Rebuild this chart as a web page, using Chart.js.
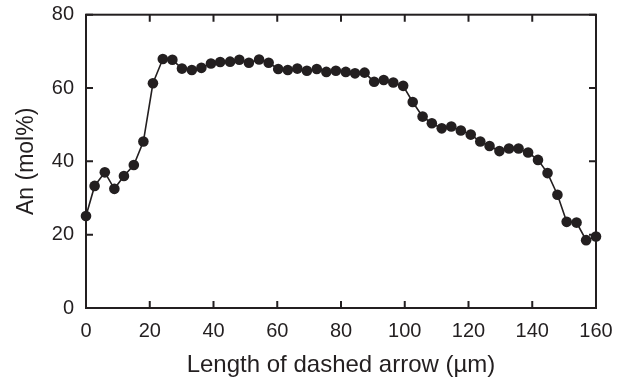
<!DOCTYPE html>
<html>
<head>
<meta charset="utf-8">
<script src="https://cdn.jsdelivr.net/npm/chart.js@4/dist/chart.umd.min.js"></script>
<style>
  html, body { margin: 0; padding: 0; background: #ffffff; }
  #wrap { width: 618px; height: 384px; position: relative; }
</style>
</head>
<body>
<div id="wrap"><canvas id="c" width="618" height="384"></canvas></div>
<script>
// Distance along dashed arrow (µm)
const xValues = [0, 2.7, 5.9, 8.9, 11.9, 15.0, 18.0, 21.0, 24.1, 27.1, 30.1, 33.2, 36.2, 39.2, 42.1, 45.2, 48.1, 51.1, 54.3, 57.3,
  60.3, 63.3, 66.3, 69.3, 72.4, 75.4, 78.4, 81.5, 84.4, 87.4, 90.4, 93.4, 96.4, 99.5, 102.5, 105.6, 108.5, 111.6, 114.6, 117.6,
  120.7, 123.7, 126.6, 129.7, 132.7, 135.7, 138.7, 141.8, 144.8, 147.9, 150.8, 153.9, 156.9, 160.0];
// An content (mol%)
const anValues = [25.1, 33.3, 37.0, 32.5, 36.0, 39.0, 45.4, 61.3, 67.9, 67.7, 65.3, 64.9, 65.5, 66.7, 67.1, 67.2, 67.7, 66.9, 67.8, 66.9,
  65.2, 64.9, 65.3, 64.7, 65.2, 64.4, 64.7, 64.4, 64.0, 64.2, 61.7, 62.2, 61.5, 60.6, 56.2, 52.2, 50.4, 49.0, 49.5, 48.4,
  47.3, 45.4, 44.2, 42.8, 43.5, 43.5, 42.4, 40.4, 36.8, 30.9, 23.5, 23.3, 18.5, 19.5];
const xTicks = [0, 20, 40, 60, 80, 100, 120, 140, 160];
const yTicks = [0, 20, 40, 60, 80];
const xTitle = 'Length of dashed arrow (µm)';
const yTitle = 'An (mol%)';

const ink = '#231f20';
const points = xValues.map((x, i) => ({ x: x, y: anValues[i] }));

const frameTicks = {
  id: 'frameTicks',
  afterDraw(chart) {
    const ctx = chart.ctx;
    const a = chart.chartArea;
    const xs = chart.scales.x, ys = chart.scales.y;
    const len = 7;
    ctx.save();
    ctx.strokeStyle = ink;
    ctx.lineWidth = 2;
    ctx.strokeRect(a.left, a.top, a.right - a.left, a.bottom - a.top);
    ctx.beginPath();
    xTicks.forEach(v => {
      const px = xs.getPixelForValue(v);
      ctx.moveTo(px, a.bottom); ctx.lineTo(px, a.bottom - len);
      ctx.moveTo(px, a.top); ctx.lineTo(px, a.top + len);
    });
    yTicks.forEach(v => {
      const py = ys.getPixelForValue(v);
      ctx.moveTo(a.left, py); ctx.lineTo(a.left + len, py);
      ctx.moveTo(a.right, py); ctx.lineTo(a.right - len, py);
    });
    ctx.stroke();
    ctx.restore();
  }
};

new Chart(document.getElementById('c'), {
  type: 'scatter',
  data: {
    datasets: [{
      data: points,
      showLine: true,
      borderColor: ink,
      borderWidth: 1.6,
      backgroundColor: ink,
      pointBackgroundColor: ink,
      pointBorderColor: ink,
      pointRadius: 5.3,
      pointBorderWidth: 0,
      tension: 0,
      clip: false
    }]
  },
  options: {
    responsive: false,
    animation: false,
    devicePixelRatio: 1,
    layout: { padding: { left: 0, right: 22, top: 14.7, bottom: 0 } },
    plugins: { legend: { display: false }, tooltip: { enabled: false } },
    scales: {
      x: {
        type: 'linear',
        min: 0, max: 160,
        afterBuildTicks(scale) { scale.ticks = xTicks.map(v => ({ value: v })); },
        afterFit(scale) { scale.height = 76; scale.paddingLeft = 0; scale.paddingRight = 0; },
        grid: { display: true, drawOnChartArea: false, drawTicks: false },
        border: { display: false },
        ticks: { color: ink, padding: 11, font: { family: 'Liberation Sans, Arial, sans-serif', size: 20 }, maxRotation: 0 },
        title: { display: true, text: xTitle, color: ink, font: { family: 'Liberation Sans, Arial, sans-serif', size: 24 }, padding: { top: 4, bottom: 4 } }
      },
      y: {
        type: 'linear',
        min: 0, max: 80,
        afterBuildTicks(scale) { scale.ticks = yTicks.map(v => ({ value: v })); },
        afterFit(scale) { scale.width = 86; scale.paddingTop = 0; scale.paddingBottom = 0; },
        grid: { display: true, drawOnChartArea: false, drawTicks: false },
        border: { display: false },
        ticks: { color: ink, padding: 12, font: { family: 'Liberation Sans, Arial, sans-serif', size: 20 } },
        title: { display: true, text: yTitle, color: ink, font: { family: 'Liberation Sans, Arial, sans-serif', size: 23 }, padding: { top: 13, bottom: 6 } }
      }
    }
  },
  plugins: [frameTicks]
});
</script>
</body>
</html>
